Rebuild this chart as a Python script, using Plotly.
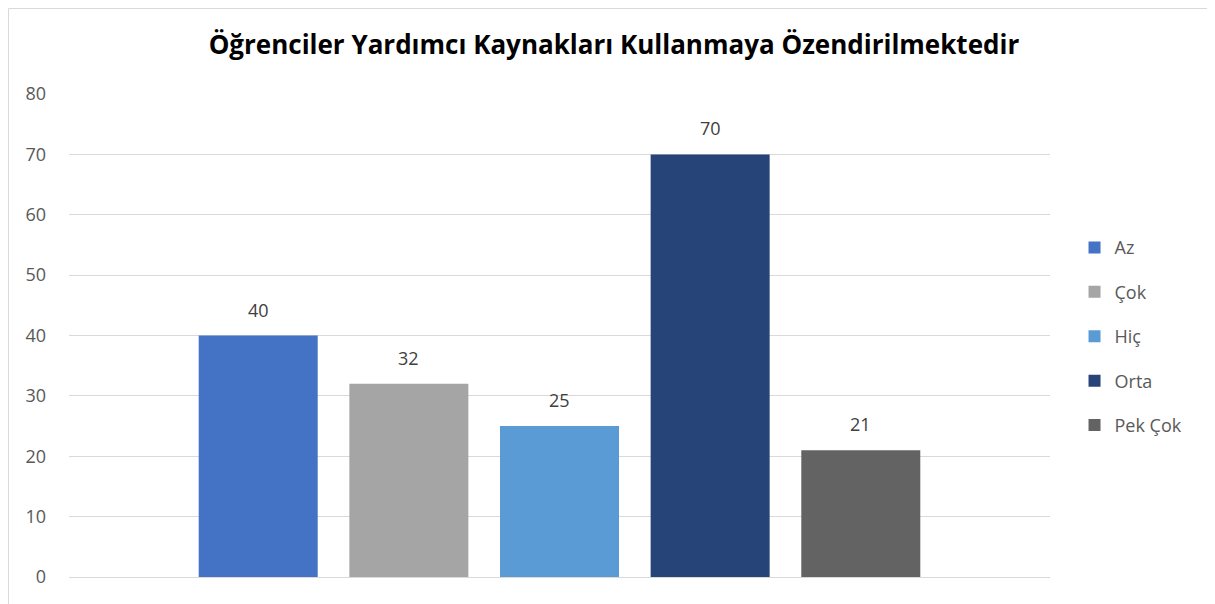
import plotly.graph_objects as go

# veri
kategoriler = ['Az', 'Çok', 'Hiç', 'Orta', 'Pek Çok']
degerler = [40, 32, 25, 70, 21]
renkler = ['#4472C4', '#A5A5A5', '#5B9BD5', '#264478', '#636363']
y_ticks = [0, 10, 20, 30, 40, 50, 60, 70, 80]

baslik = 'Öğrenciler Yardımcı Kaynakları Kullanmaya Özendirilmektedir'
font_ad = 'Open Sans'

fig = go.Figure()
for i, (kat, deger, renk) in enumerate(zip(kategoriler, degerler, renkler)):
    fig.add_trace(go.Bar(x=[i], y=[deger], name=kat, marker_color=renk,
                         marker_line_width=0, width=0.79, legendgroup=kat,
                         hoverinfo='name+y'))
    # veri etiketi
    fig.add_annotation(x=i, y=deger, text=str(deger), showarrow=False,
                       yanchor='bottom', yshift=12,
                       font=dict(family=font_ad, size=18, color='#404040'))

# grafik alanı çerçevesi
fig.add_shape(type='rect', xref='paper', yref='paper',
              x0=-0.0617, x1=1.1662, y0=-0.2, y1=1.177,
              line=dict(color='#D9D9D9', width=1), layer='below')

# sayfa gövdesinin 8px kenar boşluğu için düzeltilmiş ölçüler
fig.update_layout(
    title=dict(text=f'<b>{baslik}</b>', x=0.502, xanchor='center',
               y=1 - 37 / 596, yanchor='middle',
               font=dict(family=font_ad, size=26, color='#000000')),
    width=1207, height=596,
    margin=dict(l=61, r=165, t=86, b=27),
    paper_bgcolor='white', plot_bgcolor='white',
    barmode='overlay',
    showlegend=True,
    legend=dict(x=1.025, xanchor='left', y=0.72, yanchor='top',
                tracegroupgap=18, itemwidth=30,
                font=dict(family=font_ad, size=18, color='#595959')),
    font=dict(family=font_ad, color='#595959'),
)
fig.update_xaxes(range=[2 - 3.256, 2 + 3.256], showticklabels=False,
                 showgrid=False, zeroline=False, showline=False, fixedrange=True)
fig.update_yaxes(range=[0, 80], tickvals=y_ticks, showgrid=True,
                 gridcolor='#D9D9D9', gridwidth=1, zeroline=True,
                 zerolinecolor='#D9D9D9', zerolinewidth=1, showline=False,
                 ticklabelstandoff=22,
                 tickfont=dict(family=font_ad, size=18, color='#595959'))

fig.write_html('out.html')
